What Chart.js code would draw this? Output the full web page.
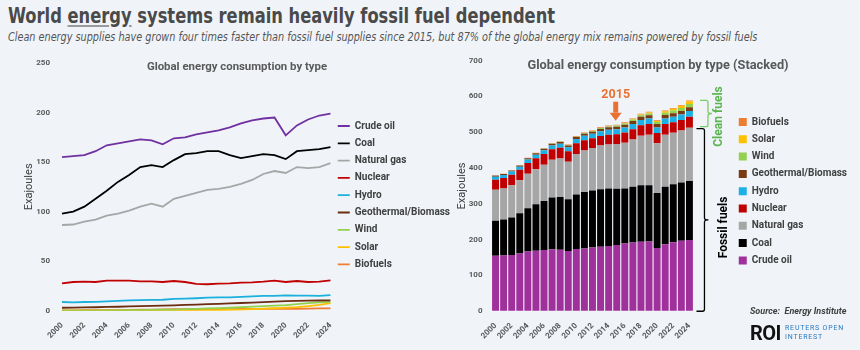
<!DOCTYPE html>
<html>
<head>
<meta charset="utf-8">
<title>World energy systems remain heavily fossil fuel dependent</title>
<script src="https://cdn.jsdelivr.net/npm/chart.js@4.4.1/dist/chart.umd.min.js"></script>
<style>
    html, body {
        margin: 0;
        padding: 0;
        width: 860px;
        height: 350px;
        background: #f0f4f9;
        overflow: hidden;
        font-family: Roboto, "Noto Sans", sans-serif;
    }
    .headline {
        position: absolute;
        left: 8px;
        top: 3px;
        font-family: "DejaVu Sans Condensed", "DejaVu Sans", sans-serif;
        font-stretch: condensed;
        font-weight: bold;
        font-size: 22px;
        color: #4a4a4a;
        white-space: nowrap;
        transform-origin: 0 0;
    }
    .headline u {
        text-decoration-color: #9a9a9a;
    }
    .subhead {
        position: absolute;
        left: 8px;
        top: 29px;
        font-family: "DejaVu Sans Condensed", "DejaVu Sans", sans-serif;
        font-stretch: condensed;
        font-style: italic;
        font-size: 12.5px;
        color: #555;
        white-space: nowrap;
        transform-origin: 0 0;
    }
    .chart-title {
        position: absolute;
        font-weight: bold;
        color: #595959;
        white-space: nowrap;
        transform: translateX(-50%);
    }
    #left-wrap, #right-wrap {
        position: absolute;
        top: 50px;
        height: 300px;
    }
    #left-wrap { left: 0; width: 460px; }
    #right-wrap { left: 440px; width: 420px; }
    .source {
        position: absolute;
        left: 750px;
        top: 306px;
        font-size: 9px;
        font-style: italic;
        font-weight: bold;
        color: #404040;
        white-space: nowrap;
    }
    .roi {
        position: absolute;
        left: 750px;
        top: 321px;
        font-size: 20px;
        font-weight: bold;
        color: #111;
        letter-spacing: -0.5px;
    }
    .roi-sub {
        position: absolute;
        left: 785px;
        top: 324px;
        font-size: 7px;
        line-height: 9px;
        letter-spacing: 0.8px;
        color: #2a78bd;
        white-space: nowrap;
    }
</style>
</head>
<body>
<div class="headline" id="headline">World <u>energy</u> systems remain heavily fossil fuel dependent</div>
<div class="subhead" id="subhead">Clean energy supplies have grown four times faster than fossil fuel supplies since 2015, but 87% of the global energy mix remains powered by fossil fuels</div>

<div id="left-wrap"><canvas id="lines-chart" width="460" height="300"></canvas></div>
<div id="right-wrap"><canvas id="stacked-chart" width="420" height="300"></canvas></div>

<div class="chart-title" style="left:237px; top:59px; font-size:11.4px;">Global energy consumption by type</div>
<div class="chart-title" style="left:658px; top:57px; font-size:12.8px;">Global energy consumption by type (Stacked)</div>

<div class="source">Source:&nbsp; Energy Institute</div>
<div class="roi">ROI</div>
<div class="roi-sub">REUTERS OPEN<br>INTEREST</div>

<script>
// Years on the x axis
const years = ['2000', '2001', '2002', '2003', '2004', '2005', '2006', '2007', '2008', '2009',
    '2010', '2011', '2012', '2013', '2014', '2015', '2016', '2017', '2018', '2019',
    '2020', '2021', '2022', '2023', '2024'];

// Consumption by source, exajoules
const crudeOil = [155, 156, 157, 161, 167, 169, 171, 173, 172, 168, 174, 175, 178, 180, 182, 185, 189, 192, 194, 195, 177, 187, 193, 197, 199];
const coal = [98, 100, 105, 113, 121, 130, 137, 145, 147, 145, 152, 158, 159, 161, 161, 157, 154, 156, 158, 157, 153, 161, 162, 163, 165];
const naturalGas = [86.5, 87, 90, 92, 96, 98, 101, 105, 108, 105, 113, 116, 119, 122, 123, 125, 128, 132, 138, 141, 139, 145, 144, 145, 149];
const nuclear = [27.7, 29, 29.4, 29, 30.4, 30.4, 30.4, 29.7, 29.7, 29, 30, 29, 27, 26.7, 27.4, 27.7, 28.4, 28.7, 29.4, 30.4, 29, 30, 29, 29.4, 30.7];
const hydro = [8.8, 8.5, 8.8, 9, 9.5, 10, 10.4, 10.7, 11, 11.1, 12, 12.2, 12.6, 13.2, 13.4, 13.5, 14, 14.4, 15, 15, 15.4, 15.2, 15.3, 15, 15.8];
const geothermalBiomass = [3, 3.1, 3.3, 3.5, 3.8, 4, 4.3, 4.6, 4.8, 5.1, 5.5, 5.9, 6.2, 6.6, 7, 7.4, 7.8, 8.2, 8.7, 9.2, 9.6, 10, 10.2, 10.3, 10.5];
const wind = [0.1, 0.1, 0.2, 0.2, 0.3, 0.4, 0.5, 0.6, 0.8, 1, 1.2, 1.6, 1.9, 2.3, 2.6, 3, 3.5, 4.1, 4.6, 5.1, 5.7, 6.7, 7.6, 8.4, 9];
const solar = [0, 0, 0, 0, 0, 0, 0, 0, 0.1, 0.1, 0.1, 0.2, 0.4, 0.5, 0.7, 0.9, 1.2, 1.6, 2.1, 2.5, 3.1, 3.7, 4.7, 5.9, 7.7];
const biofuels = [0.4, 0.4, 0.5, 0.5, 0.6, 0.7, 0.8, 1, 1.2, 1.3, 1.5, 1.5, 1.5, 1.6, 1.7, 1.7, 1.8, 1.8, 1.9, 2, 1.9, 2, 2.1, 2.3, 2.4];

// Series names, bottom of the stack first
const seriesNames = ['Crude oil', 'Coal', 'Natural gas', 'Nuclear', 'Hydro', 'Geothermal/Biomass', 'Wind', 'Solar', 'Biofuels'];
const seriesValues = [crudeOil, coal, naturalGas, nuclear, hydro, geothermalBiomass, wind, solar, biofuels];

// Axis ticks
const linesTicks = [0, 50, 100, 150, 200, 250];
const stackedTicks = [0, 100, 200, 300, 400, 500, 600, 700];

// Annotation texts
const highlightYear = '2015';
const cleanLabel = 'Clean fuels';
const fossilLabel = 'Fossil fuels';
const fossilCount = 3;

document.addEventListener('DOMContentLoaded', function() {
    // fonts have to be ready before Chart.js measures the legend
    Promise.all([
        document.fonts.load('bold 10px Roboto'),
        document.fonts.load('11px Roboto')
    ]).then(buildPage, buildPage);
});

function fitWidth(id, target) {
    const el = document.getElementById(id);
    el.style.transform = 'scaleX(' + (target / el.offsetWidth) + ')';
}

// blank legend title, only used to push the legend items down
function legendSpacer(space) {
    return { display: true, text: ' ', font: { size: 1 }, padding: { top: space, bottom: 0 } };
}

// invisible tick marks give the gap between labels and plot
function hiddenGrid(gap) {
    return { display: true, drawOnChartArea: false, drawTicks: true, tickLength: gap, color: 'rgba(0,0,0,0)' };
}

function buildPage() {
    fitWidth('headline', 547);
    fitWidth('subhead', 749);

    const lineColors = ['#7030a0', '#000000', '#a6a6a6', '#c00000', '#1cb0dc', '#6b2c10', '#92d050', '#ffc000', '#ed7d31'];
    const barColors = ['#a0309b', '#000000', '#a6a6a6', '#c00000', '#1cb0e6', '#7a3a12', '#92d050', '#ffc000', '#ed7d31'];
    const textGray = '#595959';
    const tickFont = { family: 'Roboto', size: 8, weight: 'bold' };
    const xTickFont = { family: 'Roboto', size: 8, weight: 'bold' };
    const legendFont = { family: 'Roboto', size: 10, weight: 'bold' };

    // only every other year is labelled
    function everyOtherYear(value, index) {
        return index % 2 === 0 ? years[index] : '';
    }

    // ---------- Left: line chart ----------
    const lineDatasets = seriesNames.map((name, i) => ({
        label: name,
        data: seriesValues[i],
        borderColor: lineColors[i],
        backgroundColor: lineColors[i],
        borderWidth: 1.8,
        pointRadius: 0,
        tension: 0
    }));

    new Chart(document.getElementById('lines-chart'), {
        type: 'line',
        data: { labels: years, datasets: lineDatasets },
        options: {
            responsive: false,
            animation: false,
            layout: { padding: { left: 23, top: 13, bottom: 7.5, right: 0 } },
            plugins: {
                tooltip: { enabled: false },
                legend: {
                    position: 'right',
                    align: 'start',
                    maxWidth: 200,
                    title: legendSpacer(49.5),
                    labels: {
                        usePointStyle: true,
                        pointStyle: 'line',
                        pointStyleWidth: 12,
                        boxHeight: 10,
                        padding: 7.3,
                        color: '#404040',
                        font: legendFont
                    }
                }
            },
            scales: {
                x: {
                    grid: { display: false },
                    border: { display: false },
                    ticks: {
                        autoSkip: false,
                        maxRotation: 45,
                        minRotation: 45,
                        padding: 2,
                        color: textGray,
                        font: xTickFont,
                        callback: everyOtherYear
                    }
                },
                y: {
                    min: linesTicks[0],
                    max: linesTicks[linesTicks.length - 1],
                    afterFit: function(scale) { scale.width = 39; },
                    afterBuildTicks: function(scale) {
                        scale.ticks = linesTicks.map(v => ({ value: v }));
                    },
                    grid: hiddenGrid(12),
                    border: { display: false },
                    title: {
                        display: true,
                        text: 'Exajoules',
                        color: '#404040',
                        padding: { top: 0, bottom: 0 },
                        font: { family: 'Roboto', size: 11 }
                    },
                    ticks: { padding: 0, color: textGray, font: tickFont }
                }
            }
        }
    });

    // ---------- Right: stacked bar chart ----------
    const barDatasets = seriesNames.map((name, i) => ({
        label: name,
        data: seriesValues[i],
        backgroundColor: barColors[i],
        borderWidth: 0,
        barPercentage: 0.86,
        categoryPercentage: 1
    }));

    // draws the 2015 arrow and the clean / fossil brackets
    const annotations = {
        id: 'annotations',
        afterDatasetsDraw: function(chart) {
            const ctx = chart.ctx;
            const x = chart.scales.x;
            const y = chart.scales.y;
            const last = years.length - 1;

            // 2015 marker above its bar
            const hi = years.indexOf(highlightYear);
            let top = 0;
            seriesValues.forEach(s => { top += s[hi]; });
            const ax = x.getPixelForValue(hi) - 1;
            const tip = y.getPixelForValue(top) - 4;
            ctx.save();
            ctx.fillStyle = '#e97132';
            ctx.font = 'bold 12.5px Roboto';
            ctx.textAlign = 'center';
            ctx.textBaseline = 'middle';
            ctx.fillText(highlightYear, ax, tip - 26);
            ctx.fillRect(ax - 2.5, tip - 19, 5, 11);
            ctx.beginPath();
            ctx.moveTo(ax - 6, tip - 8);
            ctx.lineTo(ax + 6, tip - 8);
            ctx.lineTo(ax, tip);
            ctx.closePath();
            ctx.fill();
            ctx.restore();

            // stack heights for the latest year
            let fossil = 0;
            let total = 0;
            seriesValues.forEach((s, i) => {
                total += s[last];
                if (i < fossilCount) fossil += s[last];
            });
            const bx = chart.chartArea.right;
            const yTotal = y.getPixelForValue(total);
            const yFossil = y.getPixelForValue(fossil);
            const yZero = y.getPixelForValue(0);
            drawBrace(ctx, bx + 14.5, yTotal, yFossil - 1, '#7ccb6a', 1.3);
            drawBrace(ctx, bx + 11, yFossil + 1, yZero, '#000000', 1.3);

            drawVertical(ctx, cleanLabel, bx + 26, (yTotal + yFossil) / 2 + 2.5, '#5bb450');
            drawVertical(ctx, fossilLabel, bx + 31, (yFossil + yZero) / 2 + 8, '#000000');
        }
    };

    function drawBrace(ctx, x, y1, y2, color, width) {
        const mid = (y1 + y2) / 2;
        ctx.save();
        ctx.strokeStyle = color;
        ctx.lineWidth = width;
        ctx.beginPath();
        ctx.moveTo(x - 8, y1);
        ctx.lineTo(x - 2, y1);
        ctx.quadraticCurveTo(x, y1, x, y1 + 2);
        ctx.lineTo(x, mid - 2);
        ctx.quadraticCurveTo(x, mid, x + 4, mid);
        ctx.quadraticCurveTo(x, mid, x, mid + 2);
        ctx.lineTo(x, y2 - 2);
        ctx.quadraticCurveTo(x, y2, x - 2, y2);
        ctx.lineTo(x - 8, y2);
        ctx.stroke();
        ctx.restore();
    }

    function drawVertical(ctx, text, x, y, color) {
        ctx.save();
        ctx.translate(x, y);
        ctx.rotate(-Math.PI / 2);
        ctx.fillStyle = color;
        ctx.font = 'bold 12px Roboto';
        ctx.textAlign = 'center';
        ctx.textBaseline = 'middle';
        ctx.fillText(text, 0, 0);
        ctx.restore();
    }

    new Chart(document.getElementById('stacked-chart'), {
        type: 'bar',
        data: { labels: years, datasets: barDatasets },
        plugins: [annotations],
        options: {
            responsive: false,
            animation: false,
            layout: { padding: { left: 16, top: 10.7, bottom: 7, right: 3 } },
            plugins: {
                tooltip: { enabled: false },
                legend: {
                    position: 'right',
                    align: 'start',
                    reverse: true,
                    maxWidth: 200,
                    title: legendSpacer(47.8),
                    labels: {
                        boxWidth: 8,
                        boxHeight: 8,
                        padding: 7.3,
                        color: '#404040',
                        font: legendFont
                    }
                }
            },
            scales: {
                x: {
                    stacked: true,
                    grid: { display: false },
                    border: { display: false },
                    ticks: {
                        autoSkip: false,
                        maxRotation: 45,
                        minRotation: 45,
                        padding: 2,
                        color: textGray,
                        font: xTickFont,
                        callback: everyOtherYear
                    }
                },
                y: {
                    stacked: true,
                    min: stackedTicks[0],
                    max: stackedTicks[stackedTicks.length - 1],
                    afterFit: function(scale) { scale.width = 35.5; },
                    afterBuildTicks: function(scale) {
                        scale.ticks = stackedTicks.map(v => ({ value: v }));
                    },
                    grid: hiddenGrid(9),
                    border: { display: false },
                    title: {
                        display: true,
                        text: 'Exajoules',
                        color: '#404040',
                        padding: { top: 0, bottom: 0 },
                        font: { family: 'Roboto', size: 11 }
                    },
                    ticks: { padding: 0, color: textGray, font: tickFont }
                },
                // empty axis that keeps room for the brackets
                gap: {
                    type: 'linear',
                    position: 'right',
                    afterFit: function(scale) { scale.width = 38; },
                    grid: { display: false },
                    border: { display: false },
                    ticks: { display: false }
                }
            }
        }
    });
}
</script>
</body>
</html>
